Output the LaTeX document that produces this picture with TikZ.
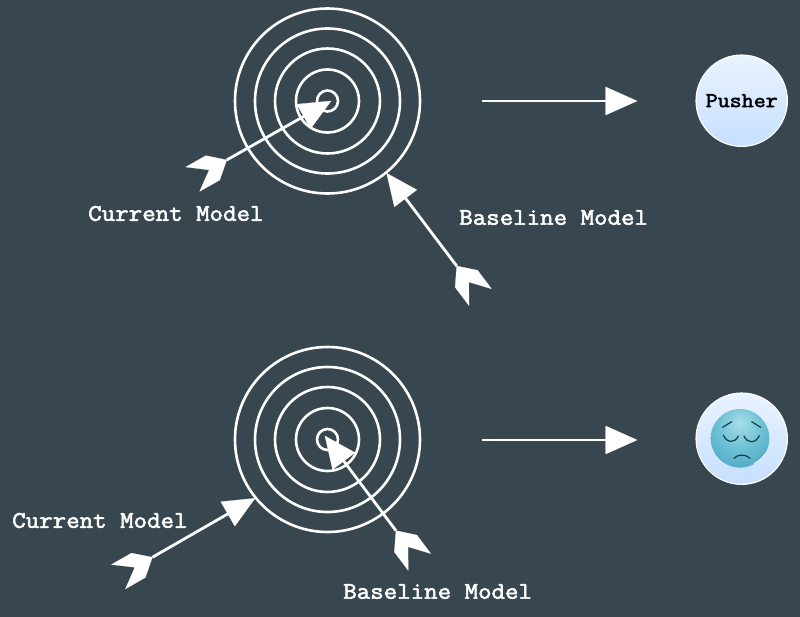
\documentclass[tikz,border=0pt]{standalone}
\usepackage{fontspec}
\setmonofont{Latin Modern Mono}[FakeBold=2.4,FakeStretch=1.1]
\usetikzlibrary{calc}
\definecolor{bg}{HTML}{37464F}
\definecolor{ballTop}{HTML}{FCFDFF}
\definecolor{ballBot}{HTML}{B4D5FF}
\definecolor{ink}{HTML}{123F4E}
\pgfdeclareverticalshading{ballgrad}{100bp}{
  color(0bp)=(ballBot);
  color(100bp)=(ballTop)}
\pgfdeclareradialshading{faceball}{\pgfpoint{0bp}{14bp}}{
  rgb(0bp)=(0.66,0.87,0.91);
  rgb(18bp)=(0.44,0.76,0.84);
  rgb(40bp)=(0.26,0.64,0.75);
  rgb(54bp)=(0.15,0.46,0.58);
  rgb(68bp)=(0.10,0.28,0.36)}
\tikzset{
  ring/.style={draw=white,line width=1.95pt,fill=none},
  shaft/.style={draw=white,line width=2.1pt},
  tipfill/.style={fill=white,draw=white,line width=0.2pt,line join=round},
  lbl/.style={text=white,font=\fontsize{17.85}{17.85}\selectfont\ttfamily,inner sep=0pt,anchor=west},
  ball/.style={circle,minimum size=68.5pt,inner sep=0pt,draw=white,line width=0.9pt,shade,shading=ballgrad},
  facestroke/.style={draw=ink,line width=0.9pt,line cap=round},
}
% head only: #1 tail, #2 tip
\newcommand\tipfrom[2]{%
  \coordinate (hb) at ($(#2)!23.5pt!(#1)$);
  \fill[tipfill] (#2) -- ($(hb)!10.5pt!90:(#2)$) -- ($(hb)!10.5pt!-90:(#2)$) -- cycle;}
% shaft, head and fletching
\newcommand\dart[2]{%
  \draw[shaft] (#1) -- ($(#2)!15pt!(#1)$);
  \tipfrom{#1}{#2}
  \coordinate (fa) at ($(#1)!-12pt!(#2)$);
  \coordinate (fb) at ($(#1)!-29.25pt!(#2)$);
  \coordinate (fn) at ($(#1)!-15pt!(#2)$);
  \fill[tipfill] (#1) -- ($(fa)!10.5pt!90:(#1)$) -- ($(fb)!10.5pt!90:(#1)$) -- (fn)
     -- ($(fb)!10.5pt!-90:(#1)$) -- ($(fa)!10.5pt!-90:(#1)$) -- cycle;}
\begin{document}
\begin{tikzpicture}[x=0.75pt,y=-0.75pt]
\useasboundingbox (0,0) rectangle (800,617);
\fill[bg] (0,0) rectangle (800,617);
% targets
\foreach \r in {92.5,72.5,52.5,31.5,10.5} {
  \draw[ring] (327.5,101) circle [radius=\r];
  \draw[ring] (327.5,439.5) circle [radius=\r];
}
% arrows
\coordinate (a1t) at (226.7,160); \coordinate (a1h) at (331,101);
\coordinate (a2t) at (456.7,266); \coordinate (a2h) at (386.7,173.3);
\coordinate (a3t) at (152.3,557.3); \coordinate (a3h) at (255,498.3);
\coordinate (a4t) at (396,530.7); \coordinate (a4h) at (325,436);
\dart{a1t}{a1h}
\dart{a2t}{a2h}
\dart{a3t}{a3h}
\dart{a4t}{a4h}
% horizontal arrows
\coordinate (h1t) at (482,101); \coordinate (h1h) at (637,101);
\coordinate (h2t) at (482,440); \coordinate (h2h) at (637,440);
\draw[shaft] (h1t) -- ($(h1h)!15pt!(h1t)$); \tipfrom{h1t}{h1h}
\draw[shaft] (h2t) -- ($(h2h)!15pt!(h2t)$); \tipfrom{h2t}{h2h}
% labels
\node[lbl] (c1) at (88,213.5) {Current Model};
\node[lbl] (b1) at (459,217.5) {Baseline Model};
\node[lbl] (c2) at (12,520.5) {Current Model};
\node[lbl] (b2) at (343,591.5) {Baseline Model};
% pusher
\node[ball,text=black,font=\fontsize{15.9}{15.9}\selectfont\ttfamily] (pusher) at (741.7,100.7) {Pusher};
% sad face
\node[ball] (sad) at (741.7,438.7) {};
\shade[shading=faceball] (740,438.3) circle [radius=29.3];
\begin{scope}[shift={(670,380)},x=0.25pt,y=-0.25pt]
  \draw[facestroke] (158,142) -- (185,125);
  \draw[facestroke] (245,125) -- (272,142);
  \draw[facestroke] (160,165) .. controls (170,190) and (195,190) .. (205,168);
  \draw[facestroke] (222,168) .. controls (232,192) and (258,190) .. (268,167);
  \draw[facestroke] (192,235) .. controls (202,222) and (228,222) .. (240,235);
  \draw[white,opacity=0.8,line width=0.8pt,line cap=round] (252,250) .. controls (265,245) and (278,235) .. (285,222);
\end{scope}
\end{tikzpicture}
\end{document}
